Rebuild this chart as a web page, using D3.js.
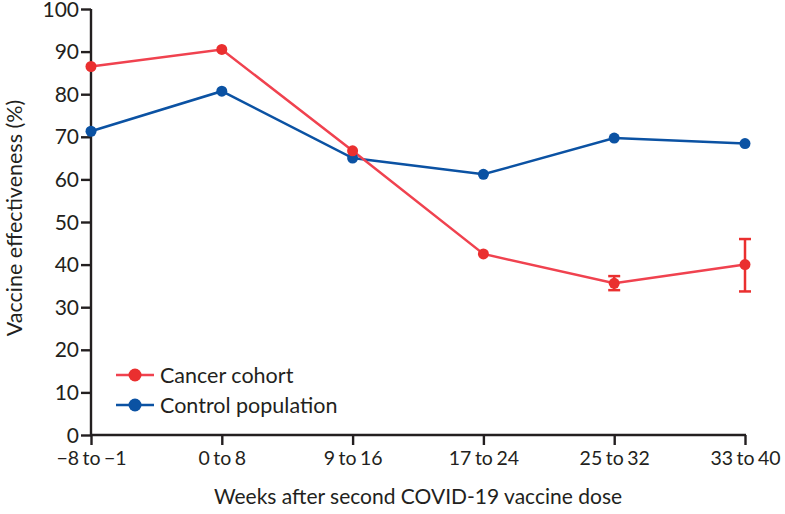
<!DOCTYPE html>
<html><head><meta charset="utf-8">
<script src="https://cdn.jsdelivr.net/npm/d3@7"></script>
<style>body{margin:0;background:#fff}svg{display:block}text{font-family:Lato,"Open Sans",sans-serif;fill:#231f20}</style>
</head><body><svg id="c" width="785" height="514"></svg>
<script>
const categories = ["\u22128 to \u22121","0 to 8","9 to 16","17 to 24","25 to 32","33 to 40"];
const cancerValues = [86.5, 90.5, 66.7, 42.5, 35.6, 40.0];
const cancerLow = [null, null, null, null, 34.0, 33.7];
const cancerHigh = [null, null, null, null, 37.3, 46.0];
const controlValues = [71.3, 80.7, 65.0, 61.2, 69.7, 68.4];
const yTicks = [0,10,20,30,40,50,60,70,80,90,100];
const seriesNames = ["Cancer cohort","Control population"];

const svg = d3.select("#c");
const x = d3.scalePoint().domain(categories).range([91, 745]);
const y = d3.scaleLinear().domain([0,100]).range([435, 9]);
const red = "#ea2f2f", redLine = "#f0424f", blue = "#0b52a3";

const yAx = svg.append("g").attr("transform","translate(91,0)")
  .call(d3.axisLeft(y).tickValues(yTicks).tickSize(10).tickPadding(2));
const xAx = svg.append("g").attr("transform","translate(0,435)")
  .call(d3.axisBottom(x).tickSize(10).tickPadding(6));
[yAx,xAx].forEach(g=>{
  g.select(".domain").attr("stroke","#231f20").attr("stroke-width",2.4);
  g.selectAll(".tick line").attr("stroke","#231f20").attr("stroke-width",2.4);
  g.selectAll("text").style("font-size","21px").attr("fill","#231f20");
});
xAx.selectAll("text").style("font-size","19.5px").style("word-spacing","-1.5px");
yAx.selectAll("text").attr("dy","0.34em");
yAx.select(".domain").attr("d","M0,436V9");
xAx.select(".domain").attr("d","M90,0H746");

svg.append("text").attr("transform","translate(22,218) rotate(-90)")
  .attr("text-anchor","middle").style("font-size","21.5px").text("Vaccine effectiveness (%)");
svg.append("text").attr("x",418).attr("y",504)
  .attr("text-anchor","middle").style("font-size","21px").text("Weeks after second COVID-19 vaccine dose");

const line = d3.line().x((d,i)=>x(categories[i])).y(d=>y(d));
svg.append("path").datum(controlValues).attr("d",line).attr("fill","none").attr("stroke",blue).attr("stroke-width",2.5);
svg.append("path").datum(cancerValues).attr("d",line).attr("fill","none").attr("stroke",redLine).attr("stroke-width",2.5);

// error bars
categories.forEach((c,i)=>{
  if(cancerLow[i]==null) return;
  const g = svg.append("g").attr("stroke",red).attr("stroke-width",2.5);
  g.append("line").attr("x1",x(c)).attr("x2",x(c)).attr("y1",y(cancerLow[i])).attr("y2",y(cancerHigh[i]));
  [cancerLow[i],cancerHigh[i]].forEach(v=>g.append("line").attr("x1",x(c)-6).attr("x2",x(c)+6).attr("y1",y(v)).attr("y2",y(v)));
});

svg.selectAll(".pc").data(controlValues).join("circle").attr("cx",(d,i)=>x(categories[i])).attr("cy",d=>y(d)).attr("r",5.5).attr("fill",blue);
svg.selectAll(".pr").data(cancerValues).join("circle").attr("cx",(d,i)=>x(categories[i])).attr("cy",d=>y(d)).attr("r",5.5).attr("fill",red);

// legend
const lg = svg.append("g");
[[seriesNames[0],red,redLine,375],[seriesNames[1],blue,blue,405]].forEach(([t,c,lc,yy])=>{
  lg.append("line").attr("x1",116).attr("x2",154).attr("y1",yy).attr("y2",yy).attr("stroke",lc).attr("stroke-width",2.5);
  lg.append("circle").attr("cx",135).attr("cy",yy).attr("r",6.5).attr("fill",c);
  lg.append("text").attr("x",160).attr("y",yy+7.5).style("font-size","21.5px").text(t);
});
</script></body></html>
